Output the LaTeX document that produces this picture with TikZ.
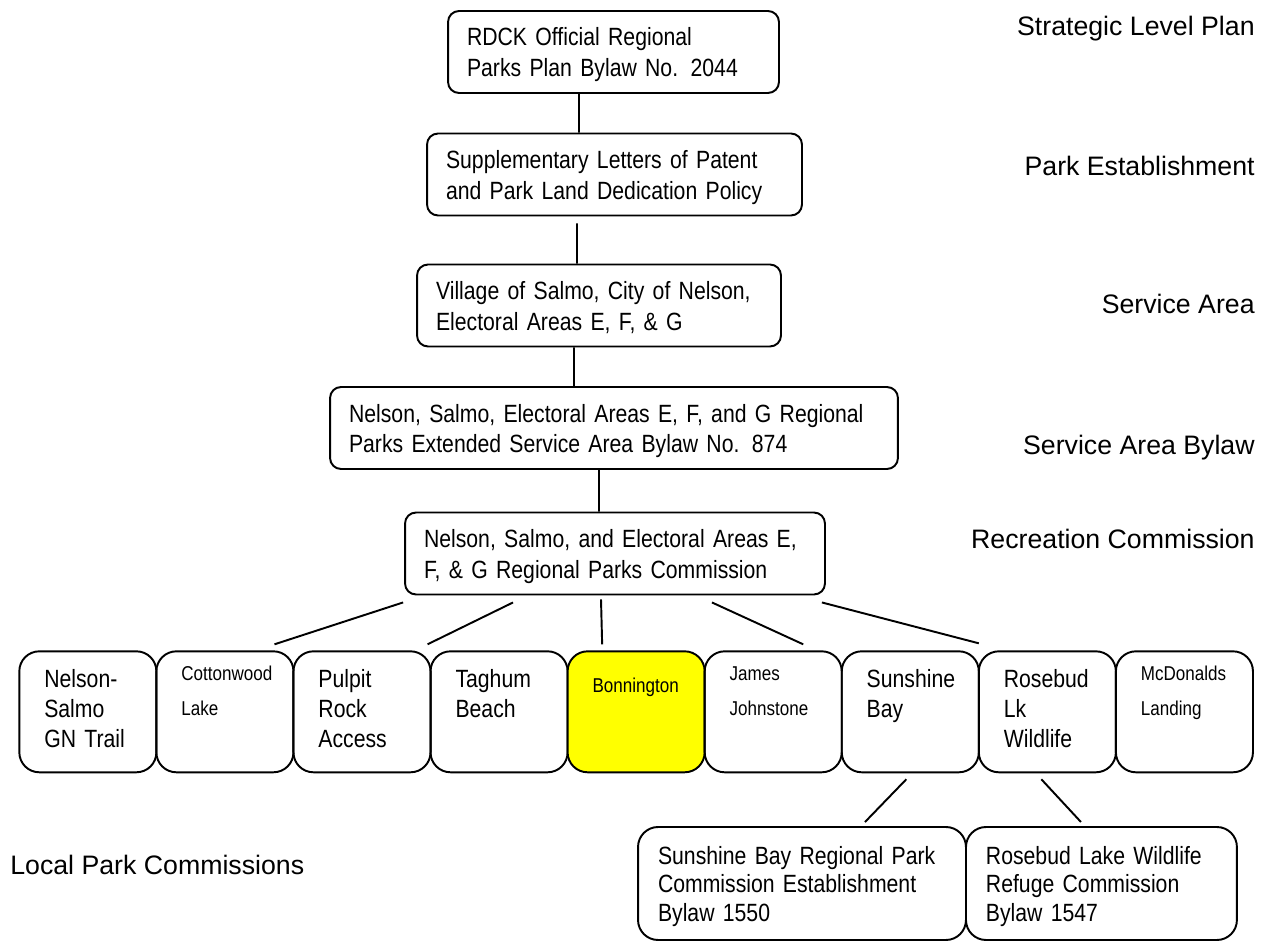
\documentclass[tikz,border=0pt]{standalone}
\usepackage{fontspec}
\setmainfont{Liberation Sans}
\newfontfamily\boxfont[FakeStretch=0.85]{Liberation Sans}
\usetikzlibrary{matrix,positioning}
\definecolor{parkyellow}{RGB}{255,255,0}
\hfuzz=40pt
\hyphenpenalty=10000

\begin{document}
\begin{tikzpicture}[x=0.02cm, y=-0.02cm,
  level/.style={draw, line width=1.1pt, rounded corners=0.22cm, align=left,
    inner xsep=0.38cm, inner ysep=0pt, text height=0.70cm, text depth=0.94cm,
    font=\boxfont\fontsize{14.2}{17.6}\selectfont},
  park/.style={draw, line width=1.1pt, rounded corners=0.4cm, align=left, anchor=north,
    outer sep=0pt, inner xsep=0.5cm, inner ysep=0pt, text width=1.742cm,
    text height=0.72cm, text depth=1.70cm, font=\boxfont\fontsize{14.2}{17}\selectfont},
  parksm/.style={park, text height=0.58cm, text depth=1.84cm,
    font=\boxfont\fontsize{11.4}{20}\selectfont},
  bylawbox/.style={draw, line width=1.1pt, rounded corners=0.4cm, align=left,
    outer sep=0pt, inner xsep=0.4cm, inner ysep=0pt, text height=0.74cm, text depth=1.52cm,
    font=\boxfont\fontsize{14.2}{16.5}\selectfont},
  tier/.style={anchor=base east, inner sep=0pt, font=\fontsize{15.2}{18}\selectfont},
  link/.style={line width=1.1pt}]
  \path[use as bounding box, fill=white] (0,0) rectangle (1268,942);

  % main chain
  \node[level, text width=5.86cm] (plan) at (613.5,52)
    {RDCK Official Regional\\Parks Plan Bylaw No. 2044};
  \node[level, text width=6.74cm] (patent) at (614.5,174.5)
    {Supplementary Letters of Patent\\and Park Land Dedication Policy};
  \node[level, text width=6.52cm] (area) at (599,305.5)
    {Village of Salmo, City of Nelson,\\Electoral Areas E, F, \& G};
  \node[level, text width=10.60cm] (bylaw) at (614,428)
    {Nelson, Salmo, Electoral Areas E, F, and G Regional\\Parks Extended Service Area Bylaw No. 874};
  \node[level, text width=7.64cm] (comm) at (615,553.5)
    {Nelson, Salmo, and Electoral Areas E,\\F, \& G Regional Parks Commission};

  % the parks
  \matrix (row) [matrix anchor=north west, inner sep=0pt, column sep=-1.1pt,
    ampersand replacement=\&] at (18,650)
  {
    \node[park] (nsgn) {Nelson-\\Salmo\\GN Trail}; \&
    \node[parksm] (cotton) {Cottonwood\\Lake}; \&
    \node[park] (pulpit) {Pulpit\\Rock\\Access}; \&
    \node[park] (taghum) {Taghum\\Beach}; \&
    \node[parksm, fill=parkyellow, text height=0.82cm, text depth=1.60cm] (bonn) {Bonnington}; \&
    \node[parksm] (james) {James\\Johnstone}; \&
    \node[park] (sunbay) {Sunshine\\Bay}; \&
    \node[park] (rosebud) {Rosebud\\Lk\\Wildlife}; \&
    \node[parksm] (mcdon) {McDonalds\\Landing}; \\
  };

  % local commissions
  \node[bylawbox, text width=5.76cm] (sbrp) at (802,883.5)
    {Sunshine Bay Regional Park\\Commission Establishment\\Bylaw 1550};
  \node[bylawbox, text width=4.62cm, right=0pt of sbrp] (rlwr)
    {Rosebud Lake Wildlife\\Refuge Commission\\Bylaw 1547};

  % tiers
  \node[tier] (t1) at (1255,36) {Strategic Level Plan};
  \node[tier] (t2) at (1255,176) {Park Establishment};
  \node[tier] (t3) at (1255,314) {Service Area};
  \node[tier] (t4) at (1255,455) {Service Area Bylaw};
  \node[tier] (t5) at (1255,548) {Recreation Commission};
  \node[tier, anchor=base west] (t6) at (10,874) {Local Park Commissions};

  \draw[link] ([xshift=-0.69cm]plan.south) -- ([xshift=-0.71cm]patent.north);
  \draw[link] ([xshift=-0.75cm,yshift=-0.14cm]patent.south) -- ([xshift=-0.44cm]area.north);
  \draw[link] ([xshift=-0.50cm]area.south) -- ([xshift=-0.80cm]bylaw.north);
  \draw[link] ([xshift=-0.30cm]bylaw.south) -- ([xshift=-0.32cm]comm.north);

  \draw[link] ([xshift=-0.02cm,yshift=-0.14cm]comm.south west) -- ([xshift=-0.38cm,yshift=0.14cm]cotton.north east);
  \draw[link] ([xshift=-2.04cm,yshift=-0.14cm]comm.south) -- ([xshift=-0.06cm,yshift=0.14cm]pulpit.north east);
  \draw[link] ([xshift=-0.28cm,yshift=-0.08cm]comm.south) -- ([xshift=-0.68cm,yshift=0.14cm]bonn.north);
  \draw[link] ([xshift=1.94cm,yshift=-0.14cm]comm.south) -- ([xshift=0.60cm,yshift=0.14cm]james.north);
  \draw[link] ([xshift=-0.08cm,yshift=-0.14cm]comm.south east) -- ([yshift=0.16cm]rosebud.north west);

  \draw[link] ([xshift=-0.08cm,yshift=-0.14cm]sunbay.south) -- ([xshift=1.26cm,yshift=0.10cm]sbrp.north);
  \draw[link] ([xshift=-0.12cm,yshift=-0.14cm]rosebud.south) -- ([xshift=-0.41cm,yshift=0.10cm]rlwr.north);
\end{tikzpicture}
\end{document}
